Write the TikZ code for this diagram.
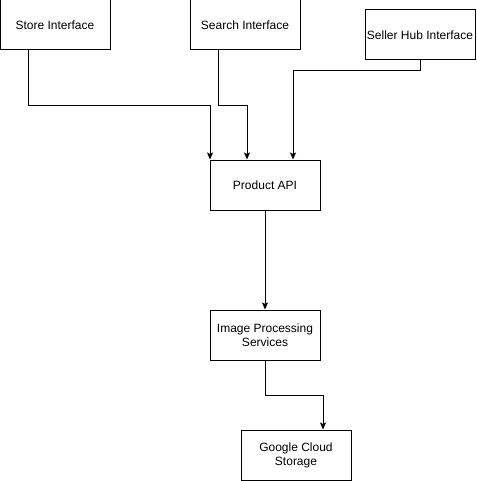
\documentclass[tikz,border=0pt]{standalone}
\usepackage{fontspec}
\setmainfont{Liberation Sans}
\usetikzlibrary{arrows.meta}
\begin{document}
\begin{tikzpicture}[x=1pt,y=-1pt,
  box/.style={draw,line width=1pt,minimum width=110pt,minimum height=50pt,inner sep=0pt,align=center,font=\fontsize{12}{14}\selectfont},
  arr/.style={draw,line width=1pt,-{Stealth[length=7pt,width=6pt,inset=1.5pt]}}]
\useasboundingbox (0,0) rectangle (476,481);
\node[box] (store) at (55,25) {Store Interface};
\node[box] (search) at (245,25) {Search Interface};
\node[box] (seller) at (420,35) {Seller Hub Interface};
\node[box] (api) at (265,185) {Product API};
\node[box] (img) at (265,335) {Image Processing\\Services};
\node[box] (gcs) at (296,455) {Google Cloud\\Storage};
\draw[arr] ([xshift=-27pt]store.south) -- ++(0,55) -| ([xshift=-55pt]api.north);
\draw[arr] ([xshift=-27pt]search.south) -- ++(0,55) -| ([xshift=-18pt]api.north);
\draw[arr] (seller.south) -- ++(0,10) -| ([xshift=28pt]api.north);
\draw[arr] (api.south) -- (img.north);
\draw[arr] (img.south) -- ++(0,35) -| ([xshift=27pt]gcs.north);
\end{tikzpicture}
\end{document}
